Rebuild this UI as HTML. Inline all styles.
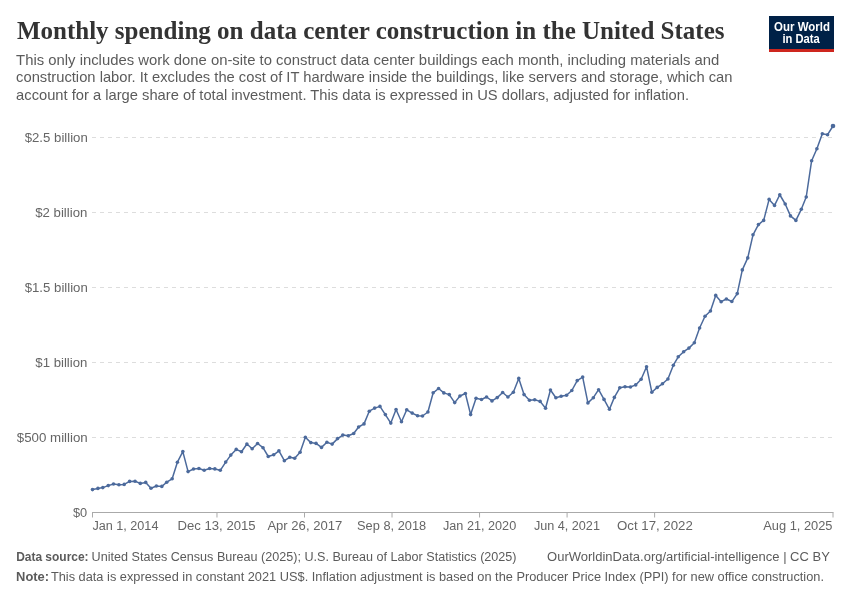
<!DOCTYPE html><html><head><meta charset="utf-8"><style>html,body{margin:0;padding:0;background:#fff;}svg{display:block;will-change:transform}</style></head><body>
<svg width="850" height="600" viewBox="0 0 850 600" style="font-family:&quot;Liberation Sans&quot;">
<rect width="850" height="600" fill="#fff"/>
<rect x="769" y="16" width="65" height="33" fill="#002147"/><rect x="769" y="49" width="65" height="3" fill="#ce261e"/>
<line x1="92" y1="137.5" x2="833" y2="137.5" stroke="#ddd" stroke-width="1" stroke-dasharray="4,4"/>
<line x1="92" y1="212.5" x2="833" y2="212.5" stroke="#ddd" stroke-width="1" stroke-dasharray="4,4"/>
<line x1="92" y1="287.5" x2="833" y2="287.5" stroke="#ddd" stroke-width="1" stroke-dasharray="4,4"/>
<line x1="92" y1="362.5" x2="833" y2="362.5" stroke="#ddd" stroke-width="1" stroke-dasharray="4,4"/>
<line x1="92" y1="437.5" x2="833" y2="437.5" stroke="#ddd" stroke-width="1" stroke-dasharray="4,4"/>
<line x1="92" y1="512.5" x2="833.5" y2="512.5" stroke="#aaa" stroke-width="1"/>
<line x1="92.50" y1="512.5" x2="92.50" y2="517.5" stroke="#aaa" stroke-width="1"/>
<line x1="216.97" y1="512.5" x2="216.97" y2="517.5" stroke="#aaa" stroke-width="1"/>
<line x1="304.50" y1="512.5" x2="304.50" y2="517.5" stroke="#aaa" stroke-width="1"/>
<line x1="392.03" y1="512.5" x2="392.03" y2="517.5" stroke="#aaa" stroke-width="1"/>
<line x1="479.56" y1="512.5" x2="479.56" y2="517.5" stroke="#aaa" stroke-width="1"/>
<line x1="567.09" y1="512.5" x2="567.09" y2="517.5" stroke="#aaa" stroke-width="1"/>
<line x1="654.61" y1="512.5" x2="654.61" y2="517.5" stroke="#aaa" stroke-width="1"/>
<line x1="833.00" y1="512.5" x2="833.00" y2="517.5" stroke="#aaa" stroke-width="1"/>
<text x="16.90" y="38.6" font-size="26" fill="#333" style="font-family:&quot;Liberation Serif&quot;" font-weight="bold" textLength="707.60" lengthAdjust="spacingAndGlyphs">Monthly spending on data center construction in the United States</text>
<text x="16.10" y="64.8" font-size="14.5" fill="#5b5b5b" style="font-family:&quot;Liberation Sans&quot;" textLength="703.24" lengthAdjust="spacingAndGlyphs">This only includes work done on-site to construct data center buildings each month, including materials and</text>
<text x="16.10" y="82.4" font-size="14.5" fill="#5b5b5b" style="font-family:&quot;Liberation Sans&quot;" textLength="716.38" lengthAdjust="spacingAndGlyphs">construction labor. It excludes the cost of IT hardware inside the buildings, like servers and storage, which can</text>
<text x="16.10" y="100.1" font-size="14.5" fill="#5b5b5b" style="font-family:&quot;Liberation Sans&quot;" textLength="672.98" lengthAdjust="spacingAndGlyphs">account for a large share of total investment. This data is expressed in US dollars, adjusted for inflation.</text>
<text x="774.10" y="30.8" font-size="12.5" fill="#fff" style="font-family:&quot;Liberation Sans&quot;" font-weight="bold" textLength="55.82" lengthAdjust="spacingAndGlyphs">Our World</text>
<text x="782.40" y="42.6" font-size="12.5" fill="#fff" style="font-family:&quot;Liberation Sans&quot;" font-weight="bold" textLength="37.32" lengthAdjust="spacingAndGlyphs">in Data</text>
<text x="24.70" y="141.5" font-size="12.5" fill="#666" style="font-family:&quot;Liberation Sans&quot;" textLength="63.11" lengthAdjust="spacingAndGlyphs">$2.5 billion</text>
<text x="35.20" y="216.5" font-size="12.5" fill="#666" style="font-family:&quot;Liberation Sans&quot;" textLength="52.16" lengthAdjust="spacingAndGlyphs">$2 billion</text>
<text x="24.70" y="291.5" font-size="12.5" fill="#666" style="font-family:&quot;Liberation Sans&quot;" textLength="63.11" lengthAdjust="spacingAndGlyphs">$1.5 billion</text>
<text x="35.30" y="366.5" font-size="12.5" fill="#666" style="font-family:&quot;Liberation Sans&quot;" textLength="52.06" lengthAdjust="spacingAndGlyphs">$1 billion</text>
<text x="16.80" y="441.5" font-size="12.5" fill="#666" style="font-family:&quot;Liberation Sans&quot;" textLength="70.96" lengthAdjust="spacingAndGlyphs">$500 million</text>
<text x="72.90" y="516.5" font-size="12.5" fill="#666" style="font-family:&quot;Liberation Sans&quot;" textLength="14.20" lengthAdjust="spacingAndGlyphs">$0</text>
<text x="92.40" y="530.3" font-size="12.5" fill="#666" style="font-family:&quot;Liberation Sans&quot;" textLength="66.05" lengthAdjust="spacingAndGlyphs">Jan 1, 2014</text>
<text x="177.45" y="530.3" font-size="12.5" fill="#666" style="font-family:&quot;Liberation Sans&quot;" textLength="78.23" lengthAdjust="spacingAndGlyphs">Dec 13, 2015</text>
<text x="267.40" y="530.3" font-size="12.5" fill="#666" style="font-family:&quot;Liberation Sans&quot;" textLength="74.82" lengthAdjust="spacingAndGlyphs">Apr 26, 2017</text>
<text x="357.08" y="530.3" font-size="12.5" fill="#666" style="font-family:&quot;Liberation Sans&quot;" textLength="69.06" lengthAdjust="spacingAndGlyphs">Sep 8, 2018</text>
<text x="443.00" y="530.3" font-size="12.5" fill="#666" style="font-family:&quot;Liberation Sans&quot;" textLength="73.20" lengthAdjust="spacingAndGlyphs">Jan 21, 2020</text>
<text x="533.90" y="530.3" font-size="12.5" fill="#666" style="font-family:&quot;Liberation Sans&quot;" textLength="66.05" lengthAdjust="spacingAndGlyphs">Jun 4, 2021</text>
<text x="617.00" y="530.3" font-size="12.5" fill="#666" style="font-family:&quot;Liberation Sans&quot;" textLength="75.81" lengthAdjust="spacingAndGlyphs">Oct 17, 2022</text>
<text x="763.20" y="530.3" font-size="12.5" fill="#666" style="font-family:&quot;Liberation Sans&quot;" textLength="69.33" lengthAdjust="spacingAndGlyphs">Aug 1, 2025</text>
<text x="16.14" y="560.5" font-size="12.5" fill="#5b5b5b" style="font-family:&quot;Liberation Sans&quot;" font-weight="bold" textLength="72.46" lengthAdjust="spacingAndGlyphs">Data source:</text>
<text x="91.59" y="560.5" font-size="12.5" fill="#5b5b5b" style="font-family:&quot;Liberation Sans&quot;" textLength="424.98" lengthAdjust="spacingAndGlyphs">United States Census Bureau (2025); U.S. Bureau of Labor Statistics (2025)</text>
<text x="547.10" y="560.5" font-size="12.5" fill="#5b5b5b" style="font-family:&quot;Liberation Sans&quot;" textLength="282.77" lengthAdjust="spacingAndGlyphs">OurWorldinData.org/artificial-intelligence | CC BY</text>
<text x="16.07" y="580.5" font-size="12.5" fill="#5b5b5b" style="font-family:&quot;Liberation Sans&quot;" font-weight="bold" textLength="33.02" lengthAdjust="spacingAndGlyphs">Note:</text>
<text x="50.90" y="580.5" font-size="12.5" fill="#5b5b5b" style="font-family:&quot;Liberation Sans&quot;" textLength="773.05" lengthAdjust="spacingAndGlyphs">This data is expressed in constant 2021 US$. Inflation adjustment is based on the Producer Price Index (PPI) for new office construction.</text>
<polyline points="92.50,489.60 97.93,488.40 102.83,487.60 108.26,485.60 113.51,484.00 118.93,484.80 124.19,484.40 129.61,481.40 135.04,481.20 140.29,483.40 145.72,482.40 150.97,488.20 156.40,486.00 161.82,486.40 166.73,482.20 172.15,478.80 177.40,462.20 182.83,451.60 188.08,471.60 193.51,469.00 198.94,468.50 204.19,470.20 209.61,468.50 214.87,468.90 220.29,470.30 225.72,462.10 230.80,455.10 236.22,449.40 241.48,451.70 246.90,444.00 252.15,448.80 257.58,443.50 263.01,447.70 268.26,456.50 273.69,454.80 278.94,450.80 284.36,460.70 289.79,457.30 294.69,458.30 300.12,452.20 305.37,437.30 310.80,442.60 316.05,443.40 321.48,447.40 326.90,442.30 332.16,444.10 337.58,438.60 342.83,435.10 348.26,435.80 353.69,433.50 358.59,427.00 364.02,423.90 369.27,411.20 374.70,408.10 379.95,406.40 385.37,414.60 390.80,423.10 396.05,409.50 401.48,421.70 406.73,409.80 412.16,413.10 417.58,415.70 422.49,416.00 427.91,412.00 433.17,392.80 438.59,388.50 443.84,392.90 449.27,394.60 454.70,402.60 459.95,396.00 465.38,393.50 470.63,414.60 476.05,398.30 481.48,399.50 486.56,397.00 491.98,400.90 497.24,397.60 502.66,392.50 507.92,397.00 513.34,392.20 518.77,378.40 524.02,394.60 529.45,400.20 534.70,399.70 540.13,401.40 545.55,408.20 550.45,390.00 555.88,397.70 561.13,396.20 566.56,395.20 571.81,390.50 577.24,380.60 582.67,377.10 587.92,402.90 593.34,397.70 598.60,389.70 604.02,399.40 609.45,409.30 614.35,397.40 619.78,387.80 625.03,386.70 630.46,387.00 635.71,384.90 641.14,379.30 646.56,366.70 651.81,392.20 657.24,387.40 662.49,383.80 667.92,379.00 673.35,365.20 678.25,356.80 683.67,351.70 688.93,348.10 694.35,342.70 699.60,328.00 705.03,316.30 710.46,311.00 715.71,295.40 721.14,301.70 726.39,299.00 731.82,301.55 737.24,293.60 742.32,269.90 747.75,257.90 753.00,234.80 758.42,224.60 763.68,220.40 769.10,199.40 774.53,205.40 779.78,194.75 785.21,204.00 790.46,215.90 795.89,220.40 801.31,209.30 806.22,197.00 811.64,160.70 816.89,148.70 822.32,133.70 827.57,134.70 833.00,126.00" fill="none" stroke="#4c6a9c" stroke-width="1.5" stroke-linejoin="round"/>
<g fill="#4c6a9c"><circle cx="92.50" cy="489.60" r="1.8"/><circle cx="97.93" cy="488.40" r="1.8"/><circle cx="102.83" cy="487.60" r="1.8"/><circle cx="108.26" cy="485.60" r="1.8"/><circle cx="113.51" cy="484.00" r="1.8"/><circle cx="118.93" cy="484.80" r="1.8"/><circle cx="124.19" cy="484.40" r="1.8"/><circle cx="129.61" cy="481.40" r="1.8"/><circle cx="135.04" cy="481.20" r="1.8"/><circle cx="140.29" cy="483.40" r="1.8"/><circle cx="145.72" cy="482.40" r="1.8"/><circle cx="150.97" cy="488.20" r="1.8"/><circle cx="156.40" cy="486.00" r="1.8"/><circle cx="161.82" cy="486.40" r="1.8"/><circle cx="166.73" cy="482.20" r="1.8"/><circle cx="172.15" cy="478.80" r="1.8"/><circle cx="177.40" cy="462.20" r="1.8"/><circle cx="182.83" cy="451.60" r="1.8"/><circle cx="188.08" cy="471.60" r="1.8"/><circle cx="193.51" cy="469.00" r="1.8"/><circle cx="198.94" cy="468.50" r="1.8"/><circle cx="204.19" cy="470.20" r="1.8"/><circle cx="209.61" cy="468.50" r="1.8"/><circle cx="214.87" cy="468.90" r="1.8"/><circle cx="220.29" cy="470.30" r="1.8"/><circle cx="225.72" cy="462.10" r="1.8"/><circle cx="230.80" cy="455.10" r="1.8"/><circle cx="236.22" cy="449.40" r="1.8"/><circle cx="241.48" cy="451.70" r="1.8"/><circle cx="246.90" cy="444.00" r="1.8"/><circle cx="252.15" cy="448.80" r="1.8"/><circle cx="257.58" cy="443.50" r="1.8"/><circle cx="263.01" cy="447.70" r="1.8"/><circle cx="268.26" cy="456.50" r="1.8"/><circle cx="273.69" cy="454.80" r="1.8"/><circle cx="278.94" cy="450.80" r="1.8"/><circle cx="284.36" cy="460.70" r="1.8"/><circle cx="289.79" cy="457.30" r="1.8"/><circle cx="294.69" cy="458.30" r="1.8"/><circle cx="300.12" cy="452.20" r="1.8"/><circle cx="305.37" cy="437.30" r="1.8"/><circle cx="310.80" cy="442.60" r="1.8"/><circle cx="316.05" cy="443.40" r="1.8"/><circle cx="321.48" cy="447.40" r="1.8"/><circle cx="326.90" cy="442.30" r="1.8"/><circle cx="332.16" cy="444.10" r="1.8"/><circle cx="337.58" cy="438.60" r="1.8"/><circle cx="342.83" cy="435.10" r="1.8"/><circle cx="348.26" cy="435.80" r="1.8"/><circle cx="353.69" cy="433.50" r="1.8"/><circle cx="358.59" cy="427.00" r="1.8"/><circle cx="364.02" cy="423.90" r="1.8"/><circle cx="369.27" cy="411.20" r="1.8"/><circle cx="374.70" cy="408.10" r="1.8"/><circle cx="379.95" cy="406.40" r="1.8"/><circle cx="385.37" cy="414.60" r="1.8"/><circle cx="390.80" cy="423.10" r="1.8"/><circle cx="396.05" cy="409.50" r="1.8"/><circle cx="401.48" cy="421.70" r="1.8"/><circle cx="406.73" cy="409.80" r="1.8"/><circle cx="412.16" cy="413.10" r="1.8"/><circle cx="417.58" cy="415.70" r="1.8"/><circle cx="422.49" cy="416.00" r="1.8"/><circle cx="427.91" cy="412.00" r="1.8"/><circle cx="433.17" cy="392.80" r="1.8"/><circle cx="438.59" cy="388.50" r="1.8"/><circle cx="443.84" cy="392.90" r="1.8"/><circle cx="449.27" cy="394.60" r="1.8"/><circle cx="454.70" cy="402.60" r="1.8"/><circle cx="459.95" cy="396.00" r="1.8"/><circle cx="465.38" cy="393.50" r="1.8"/><circle cx="470.63" cy="414.60" r="1.8"/><circle cx="476.05" cy="398.30" r="1.8"/><circle cx="481.48" cy="399.50" r="1.8"/><circle cx="486.56" cy="397.00" r="1.8"/><circle cx="491.98" cy="400.90" r="1.8"/><circle cx="497.24" cy="397.60" r="1.8"/><circle cx="502.66" cy="392.50" r="1.8"/><circle cx="507.92" cy="397.00" r="1.8"/><circle cx="513.34" cy="392.20" r="1.8"/><circle cx="518.77" cy="378.40" r="1.8"/><circle cx="524.02" cy="394.60" r="1.8"/><circle cx="529.45" cy="400.20" r="1.8"/><circle cx="534.70" cy="399.70" r="1.8"/><circle cx="540.13" cy="401.40" r="1.8"/><circle cx="545.55" cy="408.20" r="1.8"/><circle cx="550.45" cy="390.00" r="1.8"/><circle cx="555.88" cy="397.70" r="1.8"/><circle cx="561.13" cy="396.20" r="1.8"/><circle cx="566.56" cy="395.20" r="1.8"/><circle cx="571.81" cy="390.50" r="1.8"/><circle cx="577.24" cy="380.60" r="1.8"/><circle cx="582.67" cy="377.10" r="1.8"/><circle cx="587.92" cy="402.90" r="1.8"/><circle cx="593.34" cy="397.70" r="1.8"/><circle cx="598.60" cy="389.70" r="1.8"/><circle cx="604.02" cy="399.40" r="1.8"/><circle cx="609.45" cy="409.30" r="1.8"/><circle cx="614.35" cy="397.40" r="1.8"/><circle cx="619.78" cy="387.80" r="1.8"/><circle cx="625.03" cy="386.70" r="1.8"/><circle cx="630.46" cy="387.00" r="1.8"/><circle cx="635.71" cy="384.90" r="1.8"/><circle cx="641.14" cy="379.30" r="1.8"/><circle cx="646.56" cy="366.70" r="1.8"/><circle cx="651.81" cy="392.20" r="1.8"/><circle cx="657.24" cy="387.40" r="1.8"/><circle cx="662.49" cy="383.80" r="1.8"/><circle cx="667.92" cy="379.00" r="1.8"/><circle cx="673.35" cy="365.20" r="1.8"/><circle cx="678.25" cy="356.80" r="1.8"/><circle cx="683.67" cy="351.70" r="1.8"/><circle cx="688.93" cy="348.10" r="1.8"/><circle cx="694.35" cy="342.70" r="1.8"/><circle cx="699.60" cy="328.00" r="1.8"/><circle cx="705.03" cy="316.30" r="1.8"/><circle cx="710.46" cy="311.00" r="1.8"/><circle cx="715.71" cy="295.40" r="1.8"/><circle cx="721.14" cy="301.70" r="1.8"/><circle cx="726.39" cy="299.00" r="1.8"/><circle cx="731.82" cy="301.55" r="1.8"/><circle cx="737.24" cy="293.60" r="1.8"/><circle cx="742.32" cy="269.90" r="1.8"/><circle cx="747.75" cy="257.90" r="1.8"/><circle cx="753.00" cy="234.80" r="1.8"/><circle cx="758.42" cy="224.60" r="1.8"/><circle cx="763.68" cy="220.40" r="1.8"/><circle cx="769.10" cy="199.40" r="1.8"/><circle cx="774.53" cy="205.40" r="1.8"/><circle cx="779.78" cy="194.75" r="1.8"/><circle cx="785.21" cy="204.00" r="1.8"/><circle cx="790.46" cy="215.90" r="1.8"/><circle cx="795.89" cy="220.40" r="1.8"/><circle cx="801.31" cy="209.30" r="1.8"/><circle cx="806.22" cy="197.00" r="1.8"/><circle cx="811.64" cy="160.70" r="1.8"/><circle cx="816.89" cy="148.70" r="1.8"/><circle cx="822.32" cy="133.70" r="1.8"/><circle cx="827.57" cy="134.70" r="1.8"/><circle cx="833.00" cy="126.00" r="2.3"/></g>
</svg></body></html>
